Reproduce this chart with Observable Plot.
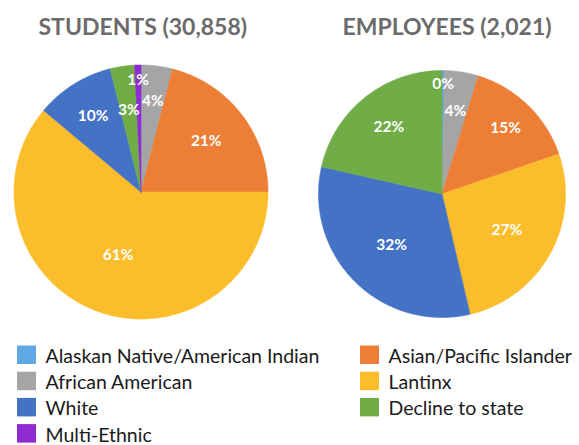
<!DOCTYPE html>
<html><head><meta charset="utf-8">
<script src="https://cdn.jsdelivr.net/npm/d3@7"></script>
<script src="https://cdn.jsdelivr.net/npm/@observablehq/plot@0.6"></script>
<style>body{margin:0;background:#fff}</style>
</head><body><div id="chart"></div>
<script>
// ---- data ----
const categories = ["Alaskan Native/American Indian","African American","Asian/Pacific Islander","Lantinx","White","Decline to state","Multi-Ethnic"];
const colors = ["#5FA8E4","#A5A5A5","#EC7E36","#FCBD2C","#4472C4","#70AD47","#8F2BD0"];
const studentValues = [0.1, 3.9, 21.0, 61.1, 10.0, 3.1, 0.8];
const studentLabels = [null, "4%", "21%", "61%", "10%", "3%", "1%"];
const employeeValues = [0.35, 4.4, 15.0, 26.6, 32.2, 21.45, 0];
const employeeLabels = ["0%", "4%", "15%", "27%", "32%", "22%", null];
const titles = ["STUDENTS (30,858)", "EMPLOYEES (2,021)"];
const legendOrder = ["Alaskan Native/American Indian","Asian/Pacific Islander","African American","Lantinx","White","Decline to state","Multi-Ethnic"];

// ---- layout ----
const W = 579, H = 445;
const pies = [
  {title: titles[0], values: studentValues, labels: studentLabels, cx: 140.5, cy: 191.5, r: 127, titleX: 38,
   labelR: [0, 0.72, 0.65, 0.53, 0.71, 0.65, 0.88]},
  {title: titles[1], values: employeeValues, labels: employeeLabels, cx: 441.5, cy: 193.5, r: 123.5, titleX: 342,
   labelR: [0.89, 0.68, 0.74, 0.6, 0.58, 0.69, 0]}
];
const legendX = [17, 360], legendTop = 345.5, legendPitch = 26.2, sw = 19, sh = 18.5, textGap = 28;

const slices = [], labelData = [], titleData = [];
pies.forEach((p, pi) => {
  titleData.push({text: p.title, x: p.titleX, y: 34.5});
  const arcs = d3.pie().sort(null).value(d => d)(p.values);
  arcs.forEach((a, i) => {
    if (a.value <= 0) return;
    const key = pi + "-" + i, cat = categories[i];
    const n = Math.max(2, Math.ceil((a.endAngle - a.startAngle) / 0.01));
    slices.push({key, cat, x: p.cx, y: p.cy});
    for (let k = 0; k <= n; k++) {
      const t = a.startAngle + (a.endAngle - a.startAngle) * k / n;
      slices.push({key, cat, x: p.cx + p.r * Math.sin(t), y: p.cy - p.r * Math.cos(t)});
    }
    slices.push({key, cat, x: p.cx, y: p.cy});
    if (p.labels[i]) {
      const m = (a.startAngle + a.endAngle) / 2, rr = p.r * p.labelR[i];
      labelData.push({text: p.labels[i], x: p.cx + rr * Math.sin(m), y: p.cy - rr * Math.cos(m)});
    }
  });
});
const legendData = legendOrder.map((c, i) => ({cat: c, row: Math.floor(i / 2), col: i % 2}));

const chart = Plot.plot({
  width: W, height: H, margin: 0,
  x: {domain: [0, W], range: [0, W], axis: null},
  y: {domain: [0, H], range: [0, H], axis: null},
  color: {domain: categories, range: colors},
  style: {fontFamily: "Lato, sans-serif", background: "white"},
  marks: [
    Plot.line(slices, {x: "x", y: "y", z: "key", fill: "cat", stroke: "cat", strokeWidth: 0.6, curve: "linear"}),
    Plot.text(labelData, {x: "x", y: "y", text: "text", fill: "white", fontSize: 15.5, fontWeight: "bold", fontFamily: "Lato"}),
    Plot.text(titleData, {x: "x", y: "y", text: "text", textAnchor: "start", lineAnchor: "bottom", fill: "#6B6B6B", fontSize: 23, fontWeight: "bold", fontFamily: "Lato"}),
    Plot.rect(legendData, {x1: d => legendX[d.col], x2: d => legendX[d.col] + sw,
      y1: d => legendTop + d.row * legendPitch, y2: d => legendTop + d.row * legendPitch + sh, fill: "cat"}),
    Plot.text(legendData, {x: d => legendX[d.col] + textGap, y: d => legendTop + d.row * legendPitch + sh - 1.5,
      text: "cat", textAnchor: "start", lineAnchor: "bottom", fill: "#1A1A1A", fontSize: 19.5, fontFamily: "Lato"})
  ]
});
document.getElementById("chart").append(chart);
</script>
</body></html>
